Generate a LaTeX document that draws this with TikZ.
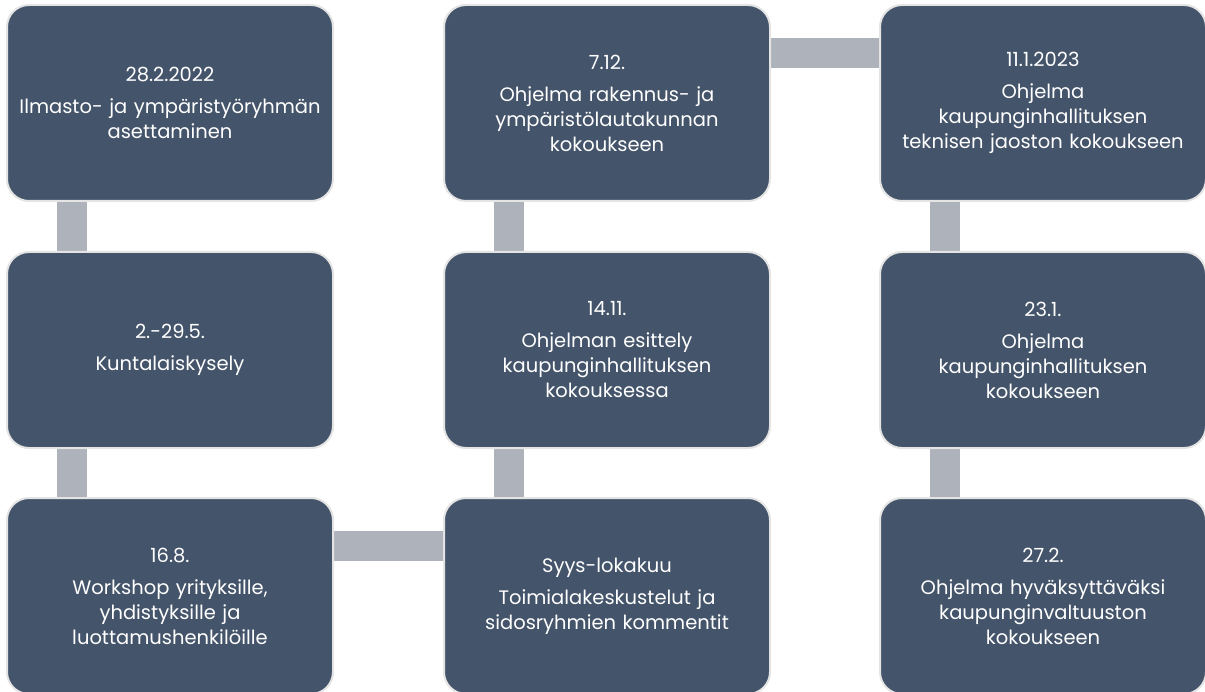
\documentclass[tikz,border=0pt]{standalone}
\usepackage{fontspec}
\setmainfont{Poppins}
\usetikzlibrary{positioning,backgrounds}

\definecolor{boxfill}{HTML}{44546A}
\definecolor{boxline}{HTML}{E4E4E4}
\definecolor{linkgray}{HTML}{AEB2BA}

\begin{document}
\begin{tikzpicture}[x=1pt, y=-1pt,
  every node/.style={font=\fontsize{19.5}{25}\selectfont},
  stage/.style={draw=boxline, line width=2pt, fill=boxfill, rounded corners=22pt,
    minimum width=326pt, minimum height=196pt, text width=320pt, align=center,
    text=white, inner sep=0pt},
  link/.style={draw=linkgray, line width=30pt}]
  \useasboundingbox (0,0) rectangle (1205,692);

  % Timeline stages, column by column
  \node[stage] (aset) at (170,103) {28.2.2022\\[7pt]Ilmasto- ja ympäristyöryhmän\\asettaminen};
  \node[stage] (kysely) at (170,350) {2.-29.5.\\[7pt]Kuntalaiskysely};
  \node[stage] (workshop) at (170,596) {16.8.\\[7pt]Workshop yrityksille,\\yhdistyksille ja\\luottamushenkilöille};

  \node[stage] (lokakuu) at (607,596) {Syys-lokakuu\\[7pt]Toimialakeskustelut ja\\sidosryhmien kommentit};
  \node[stage] (esittely) at (607,350) {14.11.\\[7pt]Ohjelman esittely\\kaupunginhallituksen\\kokouksessa};
  \node[stage] (lautakunta) at (607,103) {7.12.\\[7pt]Ohjelma rakennus- ja\\ympäristölautakunnan\\kokoukseen};

  \node[stage] (jaosto) at (1043,103) {11.1.2023\\[7pt]Ohjelma\\kaupunginhallituksen\\teknisen jaoston kokoukseen};
  \node[stage] (khall) at (1043,350) {23.1.\\[7pt]Ohjelma\\kaupunginhallituksen\\kokoukseen};
  \node[stage] (valtuusto) at (1043,596) {27.2.\\[7pt]Ohjelma hyväksyttäväksi\\kaupunginvaltuuston\\kokoukseen};

  % Connectors between stages
  \begin{scope}[on background layer]
    \draw[link] ([xshift=66pt]aset.south west) -- ([xshift=66pt]kysely.north west);
    \draw[link] ([xshift=66pt]kysely.south west) -- ([xshift=66pt]workshop.north west);
    \draw[link] ([yshift=-49pt]workshop.north east) -- ([yshift=-49pt]lokakuu.north west);
    \draw[link] ([xshift=66pt]lokakuu.north west) -- ([xshift=66pt]esittely.south west);
    \draw[link] ([xshift=66pt]esittely.north west) -- ([xshift=66pt]lautakunta.south west);
    \draw[link] ([yshift=-49pt]lautakunta.north east) -- ([yshift=-49pt]jaosto.north west);
    \draw[link] ([xshift=66pt]jaosto.south west) -- ([xshift=66pt]khall.north west);
    \draw[link] ([xshift=66pt]khall.south west) -- ([xshift=66pt]valtuusto.north west);
  \end{scope}
\end{tikzpicture}
\end{document}
